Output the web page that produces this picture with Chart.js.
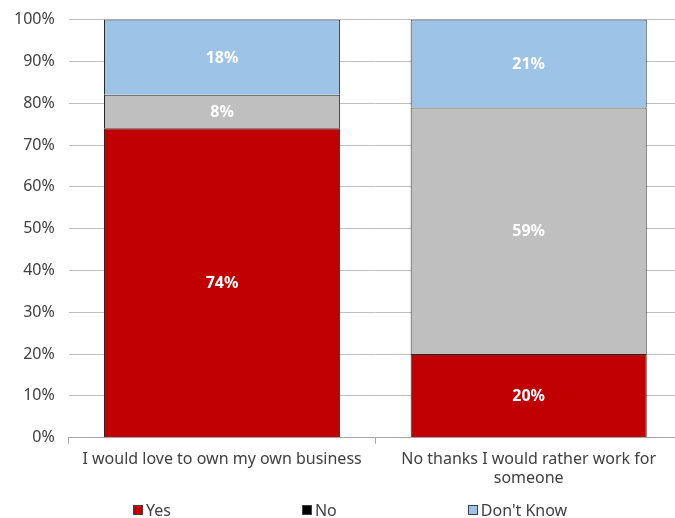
<!DOCTYPE html>
<html>
<head>
<meta charset="utf-8">
<script src="https://cdn.jsdelivr.net/npm/chart.js@4/dist/chart.umd.min.js"></script>
<style>
  html, body { margin: 0; padding: 0; background: #fff; overflow: hidden; }
  #outer { position: relative; width: 675px; height: 518px; overflow: hidden; }
  #wrap { position: absolute; left: 0; top: -4px; width: 682px; height: 518px; }
  #legend {
    position: absolute; left: 0; top: 499px; width: 675px;
    display: flex; gap: 131px; padding-left: 133px; box-sizing: border-box;
    font-family: "Noto Sans", sans-serif; font-size: 16px; color: #404040; line-height: 22px;
  }
  #legend span.item { display: flex; align-items: center; white-space: nowrap; }
  #legend span.box { display: inline-block; width: 10px; height: 10px; border: 1px solid #404040; box-sizing: border-box; margin-right: 3px; }
</style>
</head>
<body>
<div id="outer">
  <div id="wrap"><canvas id="chart"></canvas></div>
  <div id="legend"></div>
</div>
<script>
// categories + series
var categories = ['I would love to own my own business', ['No thanks I would rather work for', 'someone']];
var seriesNames = ['Yes', 'No', "Don't Know"];
var yesValues = [74, 20];
var noValues = [8, 59];
var dontKnowValues = [18, 21];
var yTicks = [0, 10, 20, 30, 40, 50, 60, 70, 80, 90, 100];

var FONT = '"Noto Sans", "Open Sans", sans-serif';
var barColors = ['#C00000', '#BFBFBF', '#9DC3E6'];
var legendColors = ['#C00000', '#000000', '#9DC3E6'];

// white bold % labels in the middle of each segment
var segmentLabels = {
  id: 'segmentLabels',
  afterDatasetsDraw: function(chart) {
    var ctx = chart.ctx;
    ctx.save();
    ctx.fillStyle = '#ffffff';
    ctx.font = 'bold 16px ' + FONT;
    ctx.textAlign = 'center';
    ctx.textBaseline = 'middle';
    chart.data.datasets.forEach(function(ds, i) {
      var meta = chart.getDatasetMeta(i);
      meta.data.forEach(function(bar, j) {
        var mid = (bar.y + bar.base) / 2;
        ctx.fillText(ds.data[j] + '%', bar.x, mid + 1);
      });
    });
    ctx.restore();
  }
};

var chart = new Chart(document.getElementById('chart'), {
  type: 'bar',
  data: {
    labels: categories,
    datasets: [
      { label: seriesNames[0], data: yesValues, backgroundColor: barColors[0], borderColor: '#262626', borderWidth: 1 },
      { label: seriesNames[1], data: noValues, backgroundColor: barColors[1], borderColor: '#262626', borderWidth: 1 },
      { label: seriesNames[2], data: dontKnowValues, backgroundColor: barColors[2], borderColor: '#262626', borderWidth: 1 }
    ]
  },
  options: {
    responsive: true,
    maintainAspectRatio: false,
    animation: false,
    layout: { padding: { top: 4, right: 0, bottom: 20, left: 0 } },
    datasets: { bar: { barPercentage: 0.77, categoryPercentage: 1.0 } },
    scales: {
      x: {
        stacked: true,
        grid: { offset: true, drawOnChartArea: false, drawTicks: true, tickLength: 6, color: '#A6A6A6' },
        border: { display: true, color: '#A6A6A6' },
        ticks: { color: '#404040', font: { family: FONT, size: 16 }, padding: 6, maxRotation: 0, autoSkip: false }
      },
      y: {
        stacked: true,
        min: 0,
        max: 100,
        afterBuildTicks: function(axis) {
          axis.ticks = yTicks.map(function(v) { return { value: v }; });
        },
        grid: { color: '#BFBFBF', drawTicks: false },
        border: { display: false },
        ticks: {
          color: '#404040',
          font: { family: FONT, size: 16 },
          padding: 14,
          autoSkip: false,
          callback: function(v) { return v + '%'; }
        }
      }
    },
    plugins: {
      tooltip: { enabled: false },
      legend: { display: false }
    }
  },
  plugins: [segmentLabels]
});

// legend (No shows a black key in the original)
var legendEl = document.getElementById('legend');
seriesNames.forEach(function(name, i) {
  var item = document.createElement('span');
  item.className = 'item';
  item.innerHTML = '<span class="box" style="background:' + legendColors[i] + '"></span>' + name;
  legendEl.appendChild(item);
});
</script>
</body>
</html>
